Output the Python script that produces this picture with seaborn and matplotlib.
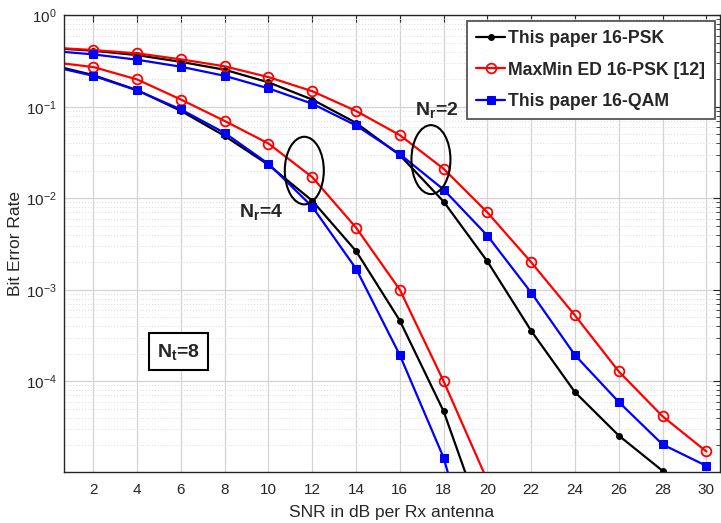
import numpy as np
import pandas as pd
import matplotlib
matplotlib.use("Agg")
import matplotlib.pyplot as plt
from matplotlib.patches import Ellipse
from matplotlib.ticker import LogLocator, NullFormatter, FixedLocator
import seaborn as sns

# ---------------- data ----------------
snr = [0, 2, 4, 6, 8, 10, 12, 14, 16, 18, 20, 22, 24, 26, 28, 30]

# Nr = 2
psk_nr2 = [0.44, 0.41, 0.367, 0.31, 0.254, 0.185, 0.12, 0.0667, 0.0296, 0.0092,
           0.00204, 3.56e-4, 7.6e-5, 2.55e-5, 1.05e-5]
maxmin_nr2 = [0.445, 0.417, 0.384, 0.33, 0.277, 0.211, 0.148, 0.090, 0.049, 0.021,
              0.0070, 0.0020, 5.24e-4, 1.28e-4, 4.14e-5, 1.71e-5]
qam_nr2 = [0.41, 0.374, 0.327, 0.274, 0.218, 0.159, 0.108, 0.0625, 0.0303, 0.01245,
           0.0039, 9.3e-4, 1.93e-4, 5.94e-5, 2.04e-5, 1.19e-5]

# Nr = 4
psk_nr4 = [0.29, 0.222, 0.152, 0.0903, 0.048, 0.0232, 0.0094, 0.00265, 4.6e-4, 4.7e-5, 2.1e-6]
maxmin_nr4 = [0.31, 0.272, 0.199, 0.12, 0.070, 0.0397, 0.017, 0.00478, 0.0010, 1.0e-4, 8.2e-6]
qam_nr4 = [0.28, 0.218, 0.151, 0.0935, 0.0518, 0.0238, 0.0081, 0.0017, 1.93e-4, 1.46e-5, 3e-7]

labels = ["This paper 16-PSK", "MaxMin ED 16-PSK [12]", "This paper 16-QAM"]
xticks = [2, 4, 6, 8, 10, 12, 14, 16, 18, 20, 22, 24, 26, 28, 30]

# ---------------- style ----------------
sns.set_theme(style="white")
plt.rcParams["font.family"] = ["Liberation Sans", "DejaVu Sans"]
plt.rcParams["mathtext.fontset"] = "custom"
plt.rcParams["mathtext.rm"] = "Liberation Sans"
plt.rcParams["mathtext.it"] = "Liberation Sans:italic"
plt.rcParams["mathtext.bf"] = "Liberation Sans:bold"

fig = plt.figure(figsize=(7.21, 5.23), dpi=100)
ax = fig.add_axes([64 / 721, 51 / 523, 655.5 / 721, 456.7 / 523])
ax.set_yscale("log")

styles = [
    dict(color="black", marker="o", markersize=4.2, markerfacecolor="black", markeredgecolor="black"),
    dict(color="#ff0000", marker="o", markersize=7, markerfacecolor="none", markeredgecolor="#ff0000",
         markeredgewidth=1.3),
    dict(color="#0000ff", marker="s", markersize=6, markerfacecolor="#0000ff", markeredgecolor="#0000ff"),
]
series_nr2 = [psk_nr2, maxmin_nr2, qam_nr2]
series_nr4 = [psk_nr4, maxmin_nr4, qam_nr4]

handles = []
for lab, st, y2, y4 in zip(labels, styles, series_nr2, series_nr4):
    d2 = pd.DataFrame({"snr": snr[:len(y2)], "ber": y2})
    d4 = pd.DataFrame({"snr": snr[:len(y4)], "ber": y4})
    sns.lineplot(data=d2, x="snr", y="ber", ax=ax, linewidth=1.6, label=lab, **st)
    sns.lineplot(data=d4, x="snr", y="ber", ax=ax, linewidth=1.6, **st)
    handles.append(ax.lines[-2])

ax.set_xlim(0.66, 30.6)
ax.set_ylim(1.02e-5, 1)

ax.xaxis.set_major_locator(FixedLocator(xticks))
ax.yaxis.set_major_locator(LogLocator(base=10, numticks=10))
ax.yaxis.set_minor_locator(LogLocator(base=10, subs=np.arange(2, 10), numticks=20))
ax.yaxis.set_minor_formatter(NullFormatter())

tick_col = "#262626"
ax.tick_params(axis="both", which="both", direction="in", top=True, right=True,
               colors=tick_col, labelsize=11)
ax.tick_params(axis="x", which="major", pad=8)
ax.tick_params(axis="y", which="major", pad=5)
ax.tick_params(axis="both", which="major", length=5, width=0.8)
ax.tick_params(axis="y", which="minor", length=3, width=0.6)
for sp in ax.spines.values():
    sp.set_color(tick_col)
    sp.set_linewidth(1.0)

ax.grid(True, which="major", color="#d4d4d4", linewidth=0.9, linestyle="-")
ax.grid(True, which="minor", axis="y", color="#dadada", linewidth=0.7, linestyle=(0, (1, 2)))
ax.set_axisbelow(True)

ax.set_xlabel("SNR in dB per Rx antenna", fontsize=12.5, color=tick_col, labelpad=6)
ax.set_ylabel("Bit Error Rate", fontsize=12.5, color=tick_col, labelpad=2)

leg = ax.legend(handles=handles, labels=labels, loc="upper right", bbox_to_anchor=(0.993, 0.988),
                borderaxespad=0, fancybox=False, frameon=True, framealpha=1,
                edgecolor="#555555", handlelength=1.6, handletextpad=0.2,
                labelspacing=0.8, borderpad=0.55, prop=dict(weight="bold", size=12.7))
leg.get_frame().set_linewidth(1.3)

# ellipses marking curve groups (axes coordinates)
ax.add_patch(Ellipse((0.3666, 0.660), 0.0595, 0.148, transform=ax.transAxes,
                     fill=False, edgecolor="black", linewidth=1.5, zorder=5))
ax.add_patch(Ellipse((0.5598, 0.684), 0.0595, 0.151, transform=ax.transAxes,
                     fill=False, edgecolor="black", linewidth=1.5, zorder=5))

ax.text(0.2668, 0.5584, r"$\mathbf{N_r}$=4", transform=ax.transAxes, fontsize=14,
        fontweight="bold", ha="left", va="baseline")
ax.text(0.535, 0.7817, r"$\mathbf{N_r}$=2", transform=ax.transAxes, fontsize=14,
        fontweight="bold", ha="left", va="baseline")
ax.text(0.1748, 0.2636, r"$\mathbf{N_t}$=8", transform=ax.transAxes, fontsize=14,
        fontweight="bold", ha="center", va="center",
        bbox=dict(boxstyle="square,pad=0.42", facecolor="white", edgecolor="black", linewidth=1.5))

fig.savefig("out.png", dpi=100)
